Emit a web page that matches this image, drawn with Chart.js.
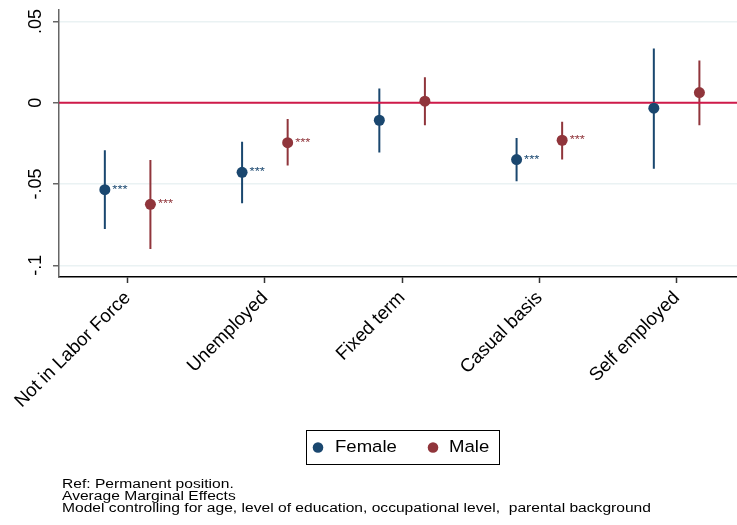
<!DOCTYPE html>
<html><head><meta charset="utf-8">
<script src="https://cdn.jsdelivr.net/npm/chart.js@4.4.1/dist/chart.umd.min.js"></script>
<style>html,body{margin:0;padding:0;background:#fff;} #wrap{position:relative;width:737px;height:525px;}</style>
</head><body><div id="wrap"><canvas id="c" width="737" height="525"></canvas></div>
<script>
// ---- data ----
const categories = ["Not in Labor Force","Unemployed","Fixed term","Casual basis","Self employed"];
const femaleEst = [-0.0535,-0.0428,-0.0108,-0.0350,-0.0034];
const femaleLo  = [-0.0777,-0.0619,-0.0307,-0.0483,-0.0406];
const femaleHi  = [-0.0293,-0.0240, 0.0088,-0.0217, 0.0334];
const maleEst   = [-0.0625,-0.0246, 0.0009,-0.0231, 0.0062];
const maleLo    = [-0.0900,-0.0387,-0.0139,-0.0350,-0.0139];
const maleHi    = [-0.0352,-0.0100, 0.0156,-0.0117, 0.0260];
const femaleSig = ["***","***","","***",""];
const maleSig   = ["***","***","","***",""];
const yTickValues = [-0.1,-0.05,0,0.05];
const yTickLabels = ["-.1","-.05","0",".05"];
const seriesNames = ["Female","Male"];
const notes = ["Ref: Permanent position.","Average Marginal Effects","Model controlling for age, level of education, occupational level,  parental background"];

// ---- style ----
const FEMALE = '#1a476f', MALE = '#90353b', ZERO = '#cf1a4a';
const OFF = 0.166;
const X_MIN = 0.5, X_MAX = 5.44, Y_MIN = -0.1072, Y_MAX = 0.057;
const FONT = '"Liberation Sans", Arial, Helvetica, sans-serif';
const STRETCH = 1.14;

function pts(est, off){ return est.map((v,i)=>({x:i+1+off, y:v})); }
function whisk(lo, hi, off){
  const d=[]; lo.forEach((l,i)=>{ d.push({x:i+1+off,y:l},{x:i+1+off,y:hi[i]},{x:i+1+off,y:null}); }); return d;
}
function wideText(ctx, t, x, y){
  ctx.save(); ctx.translate(x,y); ctx.scale(STRETCH,1); ctx.fillText(t,0,0); ctx.restore();
}

const extras = {
  id:'extras',
  afterDatasetsDraw(chart){
    const ctx=chart.ctx;
    ctx.save();
    ctx.font='11.5px '+FONT; ctx.textBaseline='middle'; ctx.textAlign='left';
    [[0,femaleSig,FEMALE],[1,maleSig,MALE]].forEach(([di,sig,col])=>{
      const meta=chart.getDatasetMeta(di);
      ctx.fillStyle=col;
      meta.data.forEach((el,i)=>{ if(sig[i]) wideText(ctx, sig[i], el.x+7.5, el.y); });
    });
    ctx.restore();
  },
  afterDraw(chart){
    const ctx=chart.ctx;
    ctx.save();
    // legend
    ctx.strokeStyle='#000'; ctx.lineWidth=1;
    ctx.strokeRect(306.5,430.5,193,34);
    ctx.font='16.3px '+FONT; ctx.textBaseline='middle'; ctx.textAlign='left';
    [[318,335,FEMALE],[433,449,MALE]].forEach(([cx,tx,col],k)=>{
      ctx.fillStyle=col; ctx.beginPath(); ctx.arc(cx,447.5,5.3,0,Math.PI*2); ctx.fill();
      ctx.fillStyle='#000'; wideText(ctx, seriesNames[k], tx, 448);
    });
    // notes
    ctx.font='13.7px '+FONT; ctx.fillStyle='#000'; ctx.textBaseline='alphabetic';
    notes.forEach((t,i)=>wideText(ctx, t, 62, 487.5+i*12.1));
    ctx.restore();
  }
};

new Chart(document.getElementById('c'), {
  type:'scatter',
  data:{ datasets:[
    {label:seriesNames[0], data:pts(femaleEst,-OFF), backgroundColor:FEMALE, borderWidth:0, pointRadius:5.5, pointHoverRadius:5.5},
    {label:seriesNames[1], data:pts(maleEst,OFF), backgroundColor:MALE, borderWidth:0, pointRadius:5.5, pointHoverRadius:5.5},
    {label:'zero', data:[{x:X_MIN,y:0},{x:X_MAX,y:0}], showLine:true, borderColor:ZERO, borderWidth:2, pointRadius:0},
    {label:'fci', data:whisk(femaleLo,femaleHi,-OFF), showLine:true, spanGaps:false, borderColor:FEMALE, borderWidth:2, pointRadius:0},
    {label:'mci', data:whisk(maleLo,maleHi,OFF), showLine:true, spanGaps:false, borderColor:MALE, borderWidth:2, pointRadius:0}
  ]},
  options:{
    responsive:false, animation:false, devicePixelRatio:1,
    layout:{autoPadding:false, padding:{top:10,right:0,bottom:0,left:0}},
    plugins:{legend:{display:false}, tooltip:{enabled:false}, title:{display:false}},
    scales:{
      x:{ type:'linear', position:'bottom', min:X_MIN, max:X_MAX,
        afterBuildTicks:s=>{ s.ticks = categories.map((c,i)=>({value:i+1})); },
        afterFit:s=>{ s.height = 248; s.paddingLeft = 0; s.paddingRight = 0; },
        ticks:{ autoSkip:false, minRotation:45, maxRotation:45, padding:4, color:'#000',
          font:{family:FONT,size:18.7}, callback:(v)=>categories[Math.round(v)-1] ?? '' },
        grid:{ drawOnChartArea:false, drawTicks:true, tickLength:6, tickColor:'#333', tickWidth:1.5 },
        border:{ display:true, color:'#000', width:1.5 }
      },
      y:{ type:'linear', position:'left', min:Y_MIN, max:Y_MAX,
        afterBuildTicks:s=>{ s.ticks = yTickValues.map(v=>({value:v})); },
        afterFit:s=>{ s.width = 59; s.paddingTop = 0; s.paddingBottom = 0; },
        ticks:{ minRotation:90, maxRotation:90, crossAlign:'center', padding:1.5, color:'#000',
          font:{family:FONT,size:18},
          callback:(v)=>{ const k=yTickValues.findIndex(t=>Math.abs(t-v)<1e-9); return k>=0?yTickLabels[k]:''; } },
        grid:{ color:'#eaf2f3', lineWidth:1.5, drawTicks:true, tickLength:6, tickColor:'#666', tickWidth:1.5 },
        border:{ display:true, color:'#666', width:1.5 }
      }
    }
  },
  plugins:[extras]
});
</script></body></html>
